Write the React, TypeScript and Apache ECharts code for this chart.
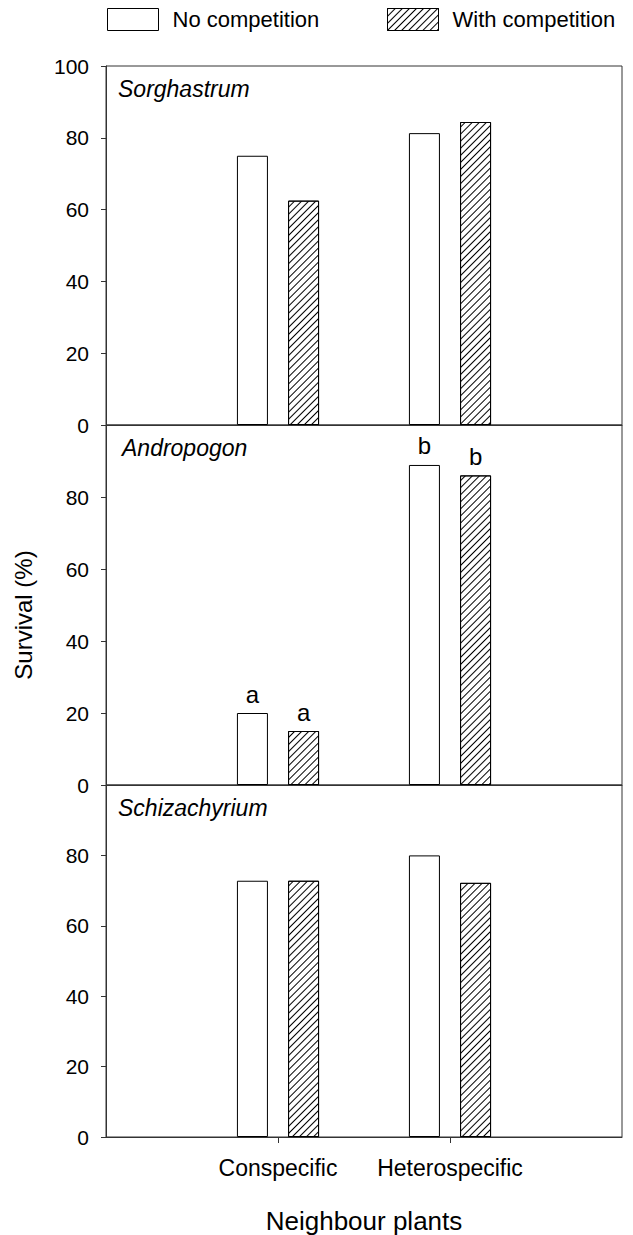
import React, { useEffect, useRef } from "react";
import * as echarts from "echarts";

const categories = ["Conspecific", "Heterospecific"];
const panels = ["Sorghastrum", "Andropogon", "Schizachyrium"];
const seriesNames = ["No competition", "With competition"];
const noCompetition = [
  [75, 81.3],
  [20, 88.9],
  [72.8, 80],
];
const withCompetition = [
  [62.5, 84.4],
  [15, 86],
  [72.8, 72.2],
];
const letterNo = [null, ["a", "b"], null];
const letterWith = [null, ["a", "b"], null];

const FONT = "Liberation Sans, Arial, sans-serif";

export default function App() {
  const ref = useRef<HTMLDivElement>(null);
  useEffect(() => {
    if (!ref.current) return;
    const chart = echarts.init(ref.current, null, { renderer: "svg" });
    const axisData = ["", ...categories, ""];
    const tops = [66, 425, 785];
    const heights = [359, 360, 361];
    const titleLeft = [118, 122, 118];
    const hatch = {
      symbol: "rect",
      symbolSize: 1,
      dashArrayX: [1, 0],
      dashArrayY: [1, 4],
      rotation: -Math.PI / 4,
      color: "#000",
    };
    const grids = panels.map((_, i) => ({
      left: 106,
      right: 11,
      top: tops[i],
      height: heights[i],
      show: true,
      borderColor: "#333",
      borderWidth: 1,
      backgroundColor: "transparent",
    }));
    const xAxes = panels.map((_, i) => ({
      type: "category",
      gridIndex: i,
      data: axisData,
      boundaryGap: false,
      axisLine: { show: true, lineStyle: { color: "#333" } },
      axisTick: {
        show: i === 2,
        length: 6,
        interval: (idx: number) => idx === 1 || idx === 2,
        lineStyle: { color: "#333" },
      },
      axisLabel: {
        show: i === 2,
        interval: 0,
        margin: 19,
        fontSize: 23,
        color: "#000",
        fontFamily: FONT,
      },
      name: i === 2 ? "Neighbour plants" : "",
      nameLocation: "middle",
      nameGap: 71,
      nameTextStyle: { fontSize: 26, color: "#000", fontFamily: FONT },
      splitLine: { show: false },
    }));
    const yAxes = panels.map((_, i) => ({
      type: "value",
      gridIndex: i,
      min: 0,
      max: 100,
      interval: 20,
      axisLine: { show: true, lineStyle: { color: "#333" } },
      axisTick: { show: true, length: 5, lineStyle: { color: "#333" } },
      axisLabel: {
        margin: 17,
        fontSize: 21,
        color: "#000",
        fontFamily: FONT,
        formatter: (v: number) => (i > 0 && v === 100 ? "" : String(v)),
      },
      splitLine: { show: false },
      name: i === 1 ? "Survival (%)" : "",
      nameLocation: "middle",
      nameRotate: 90,
      nameGap: 71,
      nameTextStyle: { fontSize: 24, color: "#000", fontFamily: FONT, padding: [0, 0, 0, -20] },
    }));
    const series: any[] = [];
    panels.forEach((_, i) => {
      [noCompetition, withCompetition].forEach((vals, s) => {
        const letters = s === 0 ? letterNo[i] : letterWith[i];
        series.push({
          type: "bar",
          name: seriesNames[s],
          xAxisIndex: i,
          yAxisIndex: i,
          data: ["-", ...vals[i], "-"],
          barWidth: 31,
          barGap: "65%",
          itemStyle: {
            color: "#fff",
            borderColor: "#000",
            borderWidth: 1,
            decal: s === 1 ? hatch : undefined,
          },
          label: letters
            ? {
                show: true,
                position: "top",
                distance: 7,
                fontSize: 24,
                color: "#000",
                fontFamily: FONT,
                formatter: (p: any) => letters[p.dataIndex - 1] ?? "",
              }
            : { show: false },
        });
      });
    });
    const titles = panels.map((p, i) => ({
      text: p,
      left: titleLeft[i],
      top: tops[i] + 11,
      padding: 0,
      textStyle: {
        fontSize: 23,
        fontStyle: "italic",
        fontWeight: "normal",
        color: "#000",
        fontFamily: FONT,
      },
    }));
    const legendCommon = {
      top: 3,
      itemWidth: 51,
      itemHeight: 22,
      icon: "rect",
      padding: 5,
      textStyle: { fontSize: 22, color: "#000", fontFamily: FONT, padding: [0, 0, 0, 9] },
    };
    chart.setOption({
      animation: false,
      backgroundColor: "#fff",
      title: titles,
      legend: [
        { ...legendCommon, left: 102, data: [seriesNames[0]], itemStyle: { color: "#fff", borderColor: "#000", borderWidth: 1 } },
        { ...legendCommon, left: 382, data: [seriesNames[1]], itemStyle: { color: "#fff", borderColor: "#000", borderWidth: 1 } },
      ],
      grid: grids,
      xAxis: xAxes,
      yAxis: yAxes,
      series,
    });
    return () => chart.dispose();
  }, []);
  return (
    <div
      ref={ref}
      style={{ position: "absolute", left: 0, top: 0, width: 633, height: 1235 }}
    />
  );
}
